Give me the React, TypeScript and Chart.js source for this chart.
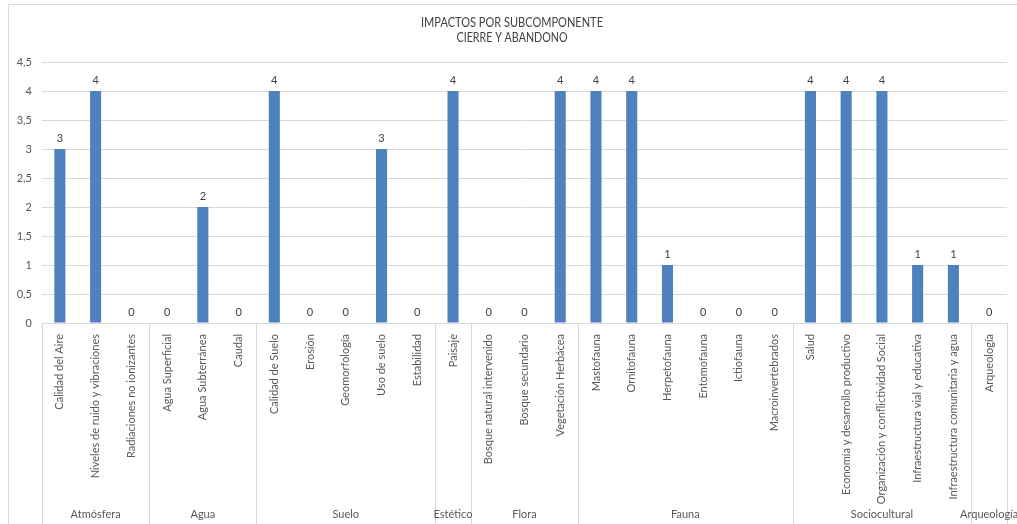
import React, { useEffect, useRef } from "react";
import { Chart, registerables } from "chart.js";

Chart.register(...registerables);

const titleLines = ["IMPACTOS POR SUBCOMPONENTE", "CIERRE Y ABANDONO"];

const categories = [
  "Calidad del Aire",
  "Niveles de ruido y vibraciones",
  "Radiaciones no ionizantes",
  "Agua Superficial",
  "Agua Subterránea",
  "Caudal",
  "Calidad de Suelo",
  "Erosión",
  "Geomorfología",
  "Uso de suelo",
  "Estabilidad",
  "Paisaje",
  "Bosque natural intervenido",
  "Bosque secundario",
  "Vegetación Herbácea",
  "Mastofauna",
  "Ornitofauna",
  "Herpetofauna",
  "Entomofauna",
  "Ictiofauna",
  "Macroinvertebrados",
  "Salud",
  "Economía y desarrollo productivo",
  "Organización y conflictividad Social",
  "Infraestructura vial y educativa",
  "Infraestructura comunitaria y agua",
  "Arqueología",
];

const values = [3, 4, 0, 0, 2, 0, 4, 0, 0, 3, 0, 4, 0, 0, 4, 4, 4, 1, 0, 0, 0, 4, 4, 4, 1, 1, 0];

const groupNames = ["Atmósfera", "Agua", "Suelo", "Estético", "Flora", "Fauna", "Sociocultural", "Arqueología"];
const groupSizes = [3, 3, 5, 1, 3, 6, 5, 1];

const yMin = 0;
const yMax = 4.5;
const yStep = 0.5;

const FONT = "Lato, 'Liberation Sans', sans-serif";
const GRID = "#d9d9d9";
const TEXT = "#595959";

const overlay = {
  id: "overlay",
  beforeDraw(chart: any) {
    const ctx = chart.ctx;
    ctx.save();
    ctx.strokeStyle = GRID;
    ctx.lineWidth = 1;
    ctx.strokeRect(8.5, 4.5, chart.width - 6, chart.height + 20);
    ctx.restore();
  },
  afterDatasetsDraw(chart: any) {
    const ctx = chart.ctx;
    const meta = chart.getDatasetMeta(0);
    ctx.save();
    ctx.font = `11px ${FONT}`;
    ctx.fillStyle = "#404040";
    ctx.textAlign = "center";
    ctx.textBaseline = "bottom";
    meta.data.forEach((bar: any, i: number) => {
      ctx.fillText(String(values[i]), bar.x, bar.y - 5);
    });
    ctx.restore();
  },
  afterDraw(chart: any) {
    const ctx = chart.ctx;
    const xs = chart.scales.x;
    const area = chart.chartArea;
    ctx.save();
    // title
    ctx.font = `13px ${FONT}`;
    ctx.fillStyle = "#404040";
    ctx.textAlign = "center";
    ctx.textBaseline = "middle";
    const cx = 512;
    ctx.fillText(titleLines[0], cx, 23, 182);
    ctx.fillText(titleLines[1], cx, 38, 111);

    // group separators and labels
    const half = (xs.getPixelForValue(1) - xs.getPixelForValue(0)) / 2;
    const edge = (idx: number) => xs.getPixelForValue(idx) - half;
    ctx.strokeStyle = GRID;
    ctx.lineWidth = 1;
    let start = 0;
    const bounds: number[] = [0];
    groupSizes.forEach((n) => {
      start += n;
      bounds.push(start);
    });
    bounds.forEach((b) => {
      const x = Math.round(edge(b)) + 0.5;
      ctx.beginPath();
      ctx.moveTo(x, area.bottom);
      ctx.lineTo(x, chart.height);
      ctx.stroke();
    });
    ctx.font = `11px ${FONT}`;
    ctx.fillStyle = TEXT;
    ctx.textBaseline = "middle";
    groupNames.forEach((g, i) => {
      const x0 = edge(bounds[i]);
      const x1 = edge(bounds[i + 1]);
      ctx.fillText(g, (x0 + x1) / 2, 514);
    });
    ctx.restore();
  },
};

export default function App() {
  const ref = useRef<HTMLCanvasElement>(null);
  useEffect(() => {
    if (!ref.current) return;
    const chart = new Chart(ref.current, {
      type: "bar",
      data: {
        labels: categories,
        datasets: [
          {
            data: values,
            backgroundColor: "#4f81bd",
            barPercentage: 0.31,
            categoryPercentage: 1,
          },
        ],
      },
      options: {
        responsive: false,
        animation: false,
        layout: { padding: { top: 62, right: 10, bottom: 0, left: 0 } },
        plugins: { legend: { display: false }, tooltip: { enabled: false }, title: { display: false } },
        scales: {
          x: {
            grid: { display: false, drawTicks: false },
            border: { display: true, color: GRID },
            ticks: {
              autoSkip: false,
              minRotation: 90,
              maxRotation: 90,
              padding: 11,
              color: TEXT,
              font: { family: FONT, size: 11 },
            },
            afterFit(scale: any) {
              scale.height = 201;
            },
          },
          y: {
            min: yMin,
            max: yMax,
            grid: { color: GRID, drawTicks: false },
            border: { display: false },
            ticks: {
              stepSize: yStep,
              padding: 10,
              color: TEXT,
              font: { family: FONT, size: 11 },
              callback: (v: any) => String(v).replace(".", ","),
            },
            afterFit(scale: any) {
              scale.width = 42;
            },
          },
        },
      },
      plugins: [overlay],
    });
    return () => chart.destroy();
  }, []);
  return (
    <div style={{ position: "absolute", left: 0, top: 0, width: 1017, height: 524 }}>
      <canvas ref={ref} width={1017} height={524} style={{ display: "block" }} />
    </div>
  );
}
